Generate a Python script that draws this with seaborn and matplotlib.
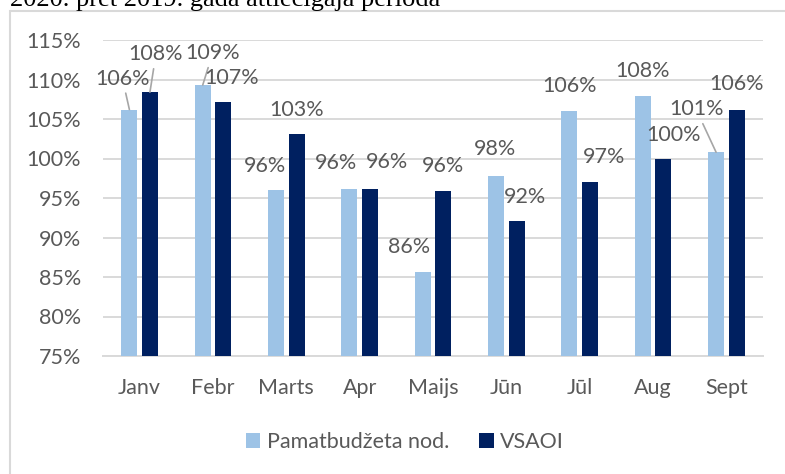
import matplotlib
matplotlib.use("Agg")
import matplotlib.pyplot as plt
from matplotlib.patches import Rectangle
import pandas as pd
import seaborn as sns

months = ["Janv", "Febr", "Marts", "Apr", "Maijs", "Jūn", "Jūl", "Aug", "Sept"]
series_names = ["Pamatbudžeta nod.", "VSAOI"]
pamatbudzets = [106.2, 109.3, 96.0, 96.2, 85.6, 97.8, 106.0, 107.9, 100.8]
vsaoi = [108.4, 107.2, 103.1, 96.1, 95.9, 92.1, 97.0, 99.9, 106.1]
y_ticks = [75, 80, 85, 90, 95, 100, 105, 110, 115]
title_text = "2020. pret 2019. gada attiecīgajā periodā"

# label offsets in pixels from the top centre of each bar (labels moved by hand in the original)
label_offsets = {
    "Pamatbudžeta nod.": [(-7, 31), (10, 32), (-11, 24), (-13, 26), (-14, 25),
                          (-1, 27), (0, 25), (0, 25), (-20, 43)],
    "VSAOI": [(6, 38), (8, 24), (0, 24), (17, 27), (0, 25),
              (8, 24), (14, 25), (10, 24), (0, 26)],
}
leader_lines = {
    "Pamatbudžeta nod.": [True, True, False, False, False, False, False, False, True],
    "VSAOI": [True, False, False, False, False, False, False, False, False],
}

colors = ["#9DC3E6", "#002060"]
text_color = "#595959"
grid_color = "#D9D9D9"
fs = 15.5

df = pd.DataFrame({
    "month": months * 2,
    "value": pamatbudzets + vsaoi,
    "series": [series_names[0]] * len(months) + [series_names[1]] * len(months),
})

sns.set_style("white")
plt.rcParams["font.family"] = ["Lato", "DejaVu Sans"]

W, H = 785, 474
fig = plt.figure(figsize=(W / 100, H / 100), dpi=100)
ax = fig.add_axes([103 / W, 1 - 356 / H, 660 / W, 316 / H])

sns.barplot(data=df, x="month", y="value", hue="series", hue_order=series_names,
            palette=colors, saturation=1, width=0.56, gap=0.22, errorbar=None,
            linewidth=0, ax=ax, zorder=3)

ax.set_ylim(75, 115)
ax.set_yticks(y_ticks)
ax.set_yticklabels([f"{t}%" for t in y_ticks])
ax.set_xlim(-0.5, len(months) - 0.5)
ax.set_xlabel("")
ax.set_ylabel("")
ax.yaxis.grid(True, color=grid_color, lw=1.4)
ax.set_axisbelow(True)
for side in ["top", "right", "left"]:
    ax.spines[side].set_visible(False)
ax.spines["bottom"].set_color(grid_color)
ax.spines["bottom"].set_linewidth(1.4)
ax.tick_params(axis="y", length=0, pad=16, labelsize=fs, labelcolor=text_color)
ax.tick_params(axis="x", length=0, pad=16, labelsize=fs, labelcolor=text_color)

# data labels
for name, container in zip(series_names, ax.containers):
    for i, bar in enumerate(container):
        v = bar.get_height()
        xc = bar.get_x() + bar.get_width() / 2
        dx, dy = label_offsets[name][i]
        arrow = None
        if leader_lines[name][i]:
            arrow = dict(arrowstyle="-", color="#A6A6A6", lw=1.2, shrinkA=1, shrinkB=0)
        ax.annotate(f"{v:.0f}%", xy=(xc, v), xytext=(dx, dy), textcoords="offset pixels",
                    ha="center", va="center", fontsize=fs, color=text_color,
                    arrowprops=arrow, zorder=4)

leg = ax.legend(loc="center", bbox_to_anchor=(405 / W, 1 - 442 / H),
                bbox_transform=fig.transFigure, ncol=2, frameon=False,
                fontsize=fs, handlelength=0.66, handleheight=0.66,
                handletextpad=0.3, columnspacing=1.4)
for t in leg.get_texts():
    t.set_color(text_color)

# chart border and the cut-off heading above it
fig.patches.append(Rectangle((10 / W, -0.05), 1.0, 1 - 11 / H + 0.05,
                             transform=fig.transFigure, fill=False,
                             edgecolor=grid_color, lw=1.5))
fig.text(10 / W, 1 - 6 / H, title_text, family="Liberation Serif",
         fontsize=19, color="black", va="baseline", ha="left")

fig.savefig("out.png", dpi=100)
